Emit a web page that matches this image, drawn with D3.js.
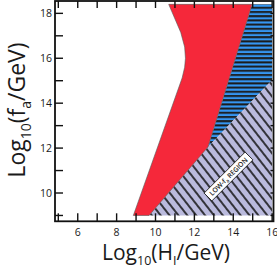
<!DOCTYPE html>
<html>
<head>
<meta charset="utf-8">
<script src="https://cdn.jsdelivr.net/npm/d3@7"></script>
<style>
  body { margin: 0; background: #fff; }
  text { font-family: "Open Sans", "Liberation Sans", sans-serif; fill: #1a1a1a; }
</style>
</head>
<body>
<svg id="chart"></svg>
<script>
// region boundaries (x = log10 H_I, y = log10 f_a)
const redLeft = [[8.86, 9], [11.37, 15.12], [11.5, 15.6], [11.54, 16.0], [11.5, 16.5], [11.3, 17.15], [10.68, 18.4]];
const redRight = [[14.97, 18.4], [12.7, 12.05], [9.67, 9]];
const blueRegion = [[14.97, 18.4], [16, 18.4], [16, 15.03], [12.7, 12.05]];
const hatchRegion = [[12.7, 12.05], [16, 15.03], [16, 9], [9.67, 9]];
const xTicks = [6, 8, 10, 12, 14, 16];
const yTicks = [10, 12, 14, 16, 18];
const minorX = d3.range(5, 17);
const minorY = d3.range(9, 19);

const width = 277, height = 278;
let svg = d3.select('#chart').attr('width', width).attr('height', height);

let x = d3.scaleLinear().domain([4.83, 16.07]).range([55, 273.5]);
let y = d3.scaleLinear().domain([8.74, 18.55]).range([221.3, 1]);

let defs = svg.append('defs');
let stripes = defs.append('pattern')
    .attr('id', 'stripes')
    .attr('patternUnits', 'userSpaceOnUse')
    .attr('width', 10).attr('height', 4.2);
stripes.append('rect').attr('width', 10).attr('height', 4.2).attr('fill', '#1b1b1b');
stripes.append('rect').attr('y', 0.4).attr('width', 10).attr('height', 2.2).attr('fill', '#3596f2');

let hatch = defs.append('pattern')
    .attr('id', 'hatch')
    .attr('patternUnits', 'userSpaceOnUse')
    .attr('width', 7).attr('height', 10)
    .attr('patternTransform', 'rotate(-38)');
hatch.append('rect').attr('width', 7).attr('height', 10).attr('fill', '#babadd');
hatch.append('line').attr('x1', 1).attr('x2', 1).attr('y1', 0).attr('y2', 10)
    .attr('stroke', '#111').attr('stroke-width', 1.6);

let poly = d3.line().x(d => x(d[0])).y(d => y(d[1]));

svg.append('path')
    .attr('d', poly(blueRegion) + 'Z')
    .attr('fill', 'url(#stripes)');
svg.append('path')
    .attr('d', poly(hatchRegion) + 'Z')
    .attr('fill', 'url(#hatch)');
svg.append('path')
    .attr('d', poly(redLeft.concat(redRight)) + 'Z')
    .attr('fill', '#f5283a')
    .attr('stroke', '#555').attr('stroke-width', 0.6);

// frame + ticks
svg.append('rect')
    .attr('x', x.range()[0]).attr('y', y.range()[1])
    .attr('width', x.range()[1] - x.range()[0])
    .attr('height', y.range()[0] - y.range()[1])
    .attr('fill', 'none').attr('stroke', '#111').attr('stroke-width', 1.8);

let tickG = svg.append('g').attr('stroke', '#111').attr('stroke-width', 1.4);
minorX.forEach(v => {
    tickG.append('line').attr('x1', x(v)).attr('x2', x(v)).attr('y1', y.range()[0]).attr('y2', y.range()[0] - 8);
    tickG.append('line').attr('x1', x(v)).attr('x2', x(v)).attr('y1', y.range()[1]).attr('y2', y.range()[1] + 7);
});
minorY.forEach(v => {
    tickG.append('line').attr('y1', y(v)).attr('y2', y(v)).attr('x1', x.range()[0]).attr('x2', x.range()[0] + 8);
    tickG.append('line').attr('y1', y(v)).attr('y2', y(v)).attr('x1', x.range()[1]).attr('x2', x.range()[1] - 3);
});

svg.selectAll('.xlab').data(xTicks).enter().append('text')
    .attr('x', d => x(d)).attr('y', 235.5)
    .attr('text-anchor', 'middle').attr('font-size', 10.5)
    .text(d => d);
svg.selectAll('.ylab').data(yTicks).enter().append('text')
    .attr('x', 52).attr('y', d => y(d) + 3.8)
    .attr('text-anchor', 'end').attr('font-size', 10.5)
    .text(d => d);

// axis titles
let xt = svg.append('text').attr('x', 166).attr('y', 260)
    .attr('text-anchor', 'middle').attr('font-size', 21);
xt.append('tspan').text('Log');
xt.append('tspan').attr('font-size', 12.5).attr('dy', 5).text('10');
xt.append('tspan').attr('dy', -5).text('(H');
xt.append('tspan').attr('font-size', 12.5).attr('dy', 5).text('I');
xt.append('tspan').attr('dy', -5).text('/GeV)');

let yt = svg.append('text')
    .attr('transform', 'translate(24.5,110) rotate(-90)')
    .attr('text-anchor', 'middle').attr('font-size', 23);
yt.append('tspan').text('Log');
yt.append('tspan').attr('font-size', 14).attr('dy', 6).text('10');
yt.append('tspan').attr('dy', -6).text('(f');
yt.append('tspan').attr('font-size', 14).attr('dy', 6).text('a');
yt.append('tspan').attr('dy', -6).text('/GeV)');

// region label
let lab = svg.append('g').attr('transform', 'translate(228.5,176.5) rotate(-45)');
lab.append('rect').attr('x', -29).attr('y', -5.5).attr('width', 58).attr('height', 11)
    .attr('fill', '#fff').attr('stroke', '#111').attr('stroke-width', 0.8);
let lt = lab.append('text').attr('y', 2.5).attr('text-anchor', 'middle')
    .attr('font-size', 6.8).attr('font-weight', 600);
lt.append('tspan').text('LOW-f');
lt.append('tspan').attr('font-size', 5).attr('dy', 1.5).text('a');
lt.append('tspan').attr('dy', -1.5).text(' REGION');
</script>
</body>
</html>
